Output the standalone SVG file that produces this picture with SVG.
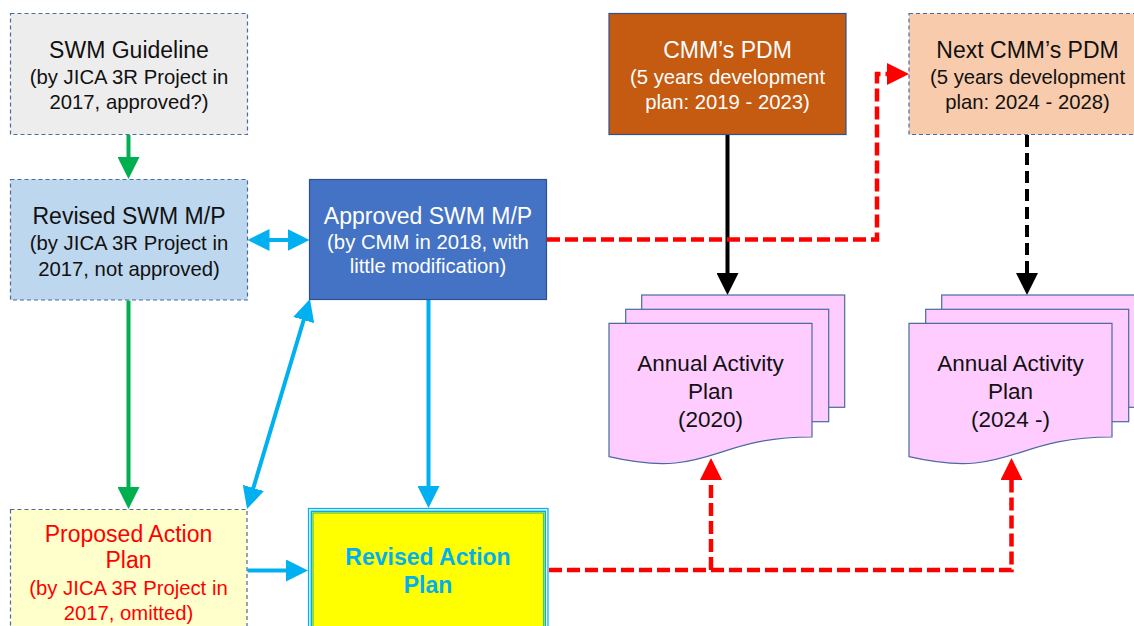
<svg xmlns="http://www.w3.org/2000/svg" width="1134" height="626" viewBox="0 0 1134 626">
<style>
text{font-family:"Liberation Sans",Arial,sans-serif;text-anchor:middle}
.t1{font-size:23px}
.t2{font-size:20.3px}
.dk{fill:#111}
.wh{fill:#fff}
.rd{fill:#ff0000}
.dash{stroke:#4a6aa0;stroke-width:1.2;stroke-dasharray:4 3}
.solid{stroke:#2f528f;stroke-width:1.2}
.doc{fill:#ffccff;stroke:#4a6aa0;stroke-width:1.2}
.c{fill:none;stroke-width:4}
.g{stroke:#00b050}
.b{stroke:#00b0f0}
.k{stroke:#000}
.r{stroke:#ff0000;stroke-width:4.5;stroke-dasharray:13 5}
</style>
<defs>
<marker id="ag" markerUnits="userSpaceOnUse" viewBox="0 0 22 22" markerWidth="22" markerHeight="22" refX="4" refY="11" orient="auto-start-reverse"><path d="M0,0L22,11L0,22z" fill="#00b050"/></marker>
<marker id="ab" markerUnits="userSpaceOnUse" viewBox="0 0 22 22" markerWidth="22" markerHeight="22" refX="4" refY="11" orient="auto-start-reverse"><path d="M0,0L22,11L0,22z" fill="#00b0f0"/></marker>
<marker id="ak" markerUnits="userSpaceOnUse" viewBox="0 0 22 22" markerWidth="22" markerHeight="22" refX="4" refY="11" orient="auto-start-reverse"><path d="M0,0L22,11L0,22z" fill="#000"/></marker>
<marker id="ar" markerUnits="userSpaceOnUse" viewBox="0 0 22 22" markerWidth="22" markerHeight="22" refX="4" refY="11" orient="auto-start-reverse"><path d="M0,0L22,11L0,22z" fill="#ff0000"/></marker>
</defs>
<rect width="1134" height="626" fill="#fff"/>

<g id="connectors">
<path class="c g" d="M128.5,135 V161" marker-end="url(#ag)"/>
<path class="c g" d="M128.5,300.5 V491" marker-end="url(#ag)"/>
<path class="c b" d="M265.5,240 H291.5" marker-start="url(#ab)" marker-end="url(#ab)"/>
<path class="c b" d="M252.2,491.8 L304.8,316.2" marker-start="url(#ab)" marker-end="url(#ab)"/>
<path class="c b" d="M428.5,300 V490" marker-end="url(#ab)"/>
<path class="c b" d="M247.5,570.5 H290" marker-end="url(#ab)"/>
<path class="c k" d="M727.5,135 V277" marker-end="url(#ak)"/>
<path class="c k" d="M1027,135 V277" stroke-dasharray="12 6" marker-end="url(#ak)"/>
<path class="c r" d="M547,239.5 H877 V74 H891" marker-end="url(#ar)"/>
<path class="c r" d="M549,570 H1011.5 V476" marker-end="url(#ar)"/>
<path class="c r" d="M711,570 V476" marker-end="url(#ar)"/>
</g>

<g id="swm-guideline">
<rect x="10.5" y="13.5" width="237" height="121" fill="#ededed" class="dash"/>
<text x="129" y="58.3" class="t1 dk">SWM Guideline</text>
<text x="129" y="83.8" class="t2 dk">(by JICA 3R Project in</text>
<text x="129" y="109.3" class="t2 dk">2017, approved?)</text>
</g>

<g id="revised-swm-mp">
<rect x="10.5" y="179.5" width="237" height="120.5" fill="#bdd7ee" class="dash"/>
<text x="129" y="224" class="t1 dk">Revised SWM M/P</text>
<text x="129" y="249.5" class="t2 dk">(by JICA 3R Project in</text>
<text x="129" y="275.5" class="t2 dk">2017, not approved)</text>
</g>

<g id="approved-swm-mp">
<rect x="309.5" y="179.5" width="237" height="120" fill="#4472c4" class="solid"/>
<text x="428" y="223.5" class="t1 wh">Approved SWM M/P</text>
<text x="428" y="248.5" class="t2 wh">(by CMM in 2018, with</text>
<text x="428" y="273" class="t2 wh">little modification)</text>
</g>

<g id="cmm-pdm">
<rect x="609" y="13.5" width="237" height="121" fill="#c55a11" class="solid"/>
<text x="727.5" y="58.3" class="t1 wh">CMM’s PDM</text>
<text x="727.5" y="83.8" class="t2 wh">(5 years development</text>
<text x="727.5" y="109.3" class="t2 wh">plan: 2019 - 2023)</text>
</g>

<g id="next-cmm-pdm">
<rect x="909" y="13.5" width="237" height="121" fill="#f8cbad" class="dash"/>
<text x="1027.5" y="57.5" class="t1 dk">Next CMM’s PDM</text>
<text x="1027.5" y="83.5" class="t2 dk">(5 years development</text>
<text x="1027.5" y="108.5" class="t2 dk">plan: 2024 - 2028)</text>
</g>

<g id="annual-plan-2020">
<rect x="641.7" y="295" width="203" height="112.3" class="doc"/>
<rect x="625.7" y="309.3" width="203" height="112.4" class="doc"/>
<path d="M609,323.3 H812 V437 C710.5,437 710.5,480 609,456.7 Z" class="doc"/>
<text x="710.5" y="371" class="t1 dk" style="font-size:22.5px">Annual Activity</text>
<text x="710.5" y="398.5" class="t1 dk" style="font-size:22.5px">Plan</text>
<text x="710.5" y="426.5" class="t1 dk" style="font-size:22.5px">(2020)</text>
</g>

<g id="annual-plan-2024">
<rect x="941.7" y="295" width="203" height="112.3" class="doc"/>
<rect x="925.7" y="309.3" width="203" height="112.4" class="doc"/>
<path d="M909,323.3 H1112 V437 C1010.5,437 1010.5,480 909,456.7 Z" class="doc"/>
<text x="1010.5" y="371" class="t1 dk" style="font-size:22.5px">Annual Activity</text>
<text x="1010.5" y="398.5" class="t1 dk" style="font-size:22.5px">Plan</text>
<text x="1010.5" y="426.5" class="t1 dk" style="font-size:22.5px">(2024 -)</text>
</g>

<g id="proposed-action-plan">
<rect x="10.5" y="509.5" width="236.5" height="140" fill="#ffffcc" class="dash"/>
<text x="128.5" y="541.5" class="t1 rd">Proposed Action</text>
<text x="128.5" y="568" class="t1 rd">Plan</text>
<text x="128.5" y="595" class="t2 rd">(by JICA 3R Project in</text>
<text x="128.5" y="620" class="t2 rd">2017, omitted)</text>
</g>

<g id="revised-action-plan">
<rect x="308.5" y="508.5" width="239.5" height="140" fill="#e6f8ff" stroke="#00b0f0" stroke-width="1.2"/>
<rect x="311.3" y="511.3" width="234" height="140" fill="#ffff00" stroke="#00b0f0" stroke-width="1.4"/>
<rect x="313" y="513" width="230.5" height="140" fill="none" stroke="#4cc46a" stroke-width="1.2"/>
<text x="428" y="565" class="t1" style="font-weight:bold;fill:#00b0f0">Revised Action</text>
<text x="428" y="593" class="t1" style="font-weight:bold;fill:#00b0f0">Plan</text>
</g>
</svg>
